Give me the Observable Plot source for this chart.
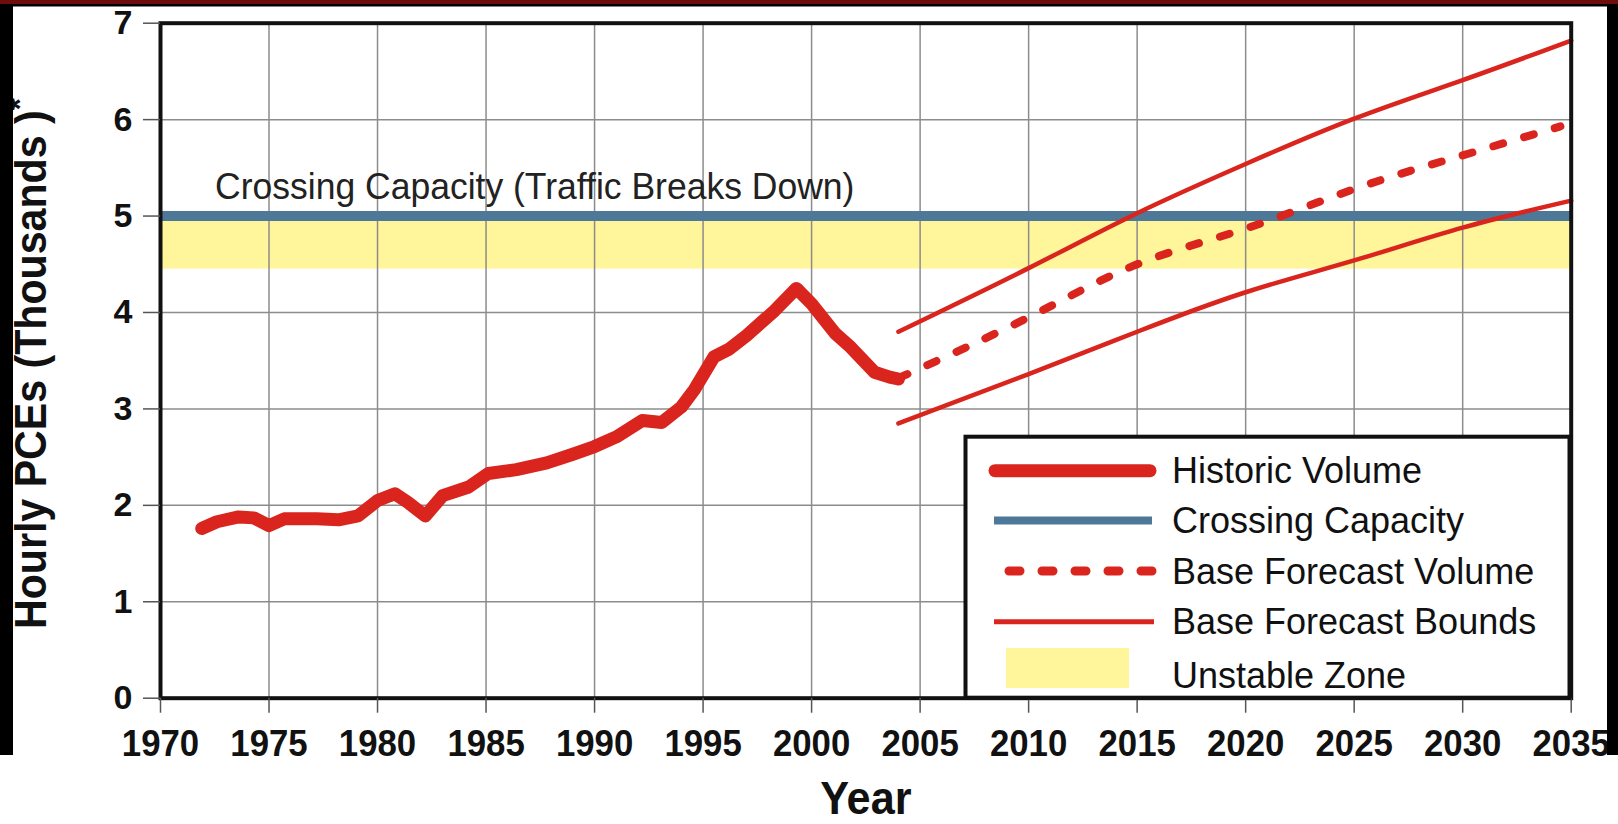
<!DOCTYPE html>
<html>
<head>
<meta charset="utf-8">
<script src="https://cdn.jsdelivr.net/npm/d3@7"></script>
<script src="https://cdn.jsdelivr.net/npm/@observablehq/plot@0.6"></script>
<style>
  html, body { margin: 0; padding: 0; background: #ffffff; }
  body { width: 1618px; height: 824px; position: relative; overflow: hidden; font-family: "Liberation Sans", Arial, sans-serif; }
  #chart { position: absolute; left: 0; top: 0; }
</style>
</head>
<body>
<div id="chart"></div>
<script>
// ---------- data ----------
const xTicks = [1970, 1975, 1980, 1985, 1990, 1995, 2000, 2005, 2010, 2015, 2020, 2025, 2030, 2035];
const yTicks = [0, 1, 2, 3, 4, 5, 6, 7];

const historicYears  = [1971.9, 1972.6, 1973.6, 1974.3, 1975.0, 1975.7, 1977.2, 1978.2, 1979.1, 1980.0, 1980.8, 1981.4, 1982.2, 1983.0, 1984.2, 1985.1, 1986.4, 1987.8, 1989.0, 1990.0, 1991.0, 1992.2, 1993.1, 1994.0, 1994.6, 1995.5, 1996.2, 1997.0, 1998.3, 1999.3, 2000.0, 2001.1, 2001.8, 2002.9, 2003.6, 2004.0];
const historicVolume = [1.76, 1.83, 1.88, 1.87, 1.79, 1.86, 1.86, 1.85, 1.89, 2.05, 2.12, 2.03, 1.89, 2.10, 2.19, 2.33, 2.37, 2.44, 2.53, 2.61, 2.71, 2.88, 2.86, 3.02, 3.20, 3.54, 3.62, 3.76, 4.02, 4.25, 4.09, 3.78, 3.64, 3.38, 3.33, 3.31];

const forecastYears  = [2004, 2005, 2010, 2015, 2020, 2025, 2030, 2034.5];
const baseForecast   = [3.32, 3.42, 3.95, 4.50, 4.87, 5.28, 5.63, 5.93];

const boundYears     = [2004, 2010, 2015, 2020, 2025, 2030, 2035];
const upperBound     = [3.80, 4.46, 5.03, 5.54, 6.01, 6.41, 6.82];
const lowerBound     = [2.85, 3.36, 3.80, 4.21, 4.54, 4.88, 5.16];

const capacityLevel  = [5.0];
const unstableZone   = [4.45, 5.0];   // [low, high]

const capacityLabel  = ["Crossing Capacity (Traffic Breaks Down)"];
const xTitle         = ["Year"];
const yTitle         = ["Hourly PCEs (Thousands )"];
const legendLabels   = ["Historic Volume", "Crossing Capacity", "Base Forecast Volume", "Base Forecast Bounds", "Unstable Zone"];

// ---------- styles ----------
const RED = "#d9251d", BLUE = "#4e7898", YELLOW = "#fff59a", GRID = "#8c8c8c";
const FONT = "'Liberation Sans', Arial, sans-serif";

const historic = historicYears.map((x, i) => ({x, y: historicVolume[i]}));
const base = forecastYears.map((x, i) => ({x, y: baseForecast[i]}));
const upper = boundYears.map((x, i) => ({x, y: upperBound[i]}));
const lower = boundYears.map((x, i) => ({x, y: lowerBound[i]}));
const zone = [{lo: unstableZone[0], hi: unstableZone[1]}];

const plot = Plot.plot({
  width: 1618,
  height: 824,
  marginLeft: 160,
  marginRight: 47.3,
  marginTop: 22.7,
  marginBottom: 126.3,
  style: {background: "transparent", fontFamily: FONT, overflow: "visible", maxWidth: "none"},
  x: {domain: [xTicks[0], xTicks[xTicks.length - 1]]},
  y: {domain: [yTicks[0], yTicks[yTicks.length - 1]]},
  marks: [
    Plot.rect(zone, {x1: xTicks[0], x2: xTicks[xTicks.length - 1], y1: "lo", y2: "hi", fill: YELLOW}),
    Plot.gridX(xTicks, {stroke: GRID, strokeOpacity: 1, strokeWidth: 1.5}),
    Plot.gridY(yTicks, {stroke: GRID, strokeOpacity: 1, strokeWidth: 1.5}),
    Plot.ruleY(capacityLevel, {stroke: BLUE, strokeWidth: 10}),
    Plot.text(capacityLabel, {frameAnchor: "left", y: capacityLevel[0], dx: 54.6, dy: -16.6, lineAnchor: "bottom",
      textAnchor: "start", fontSize: 37, fill: "#222"}),
    Plot.line(upper, {x: "x", y: "y", stroke: RED, strokeWidth: 4.5, curve: "natural"}),
    Plot.line(lower, {x: "x", y: "y", stroke: RED, strokeWidth: 4.5, curve: "natural"}),
    Plot.line(base, {x: "x", y: "y", stroke: RED, strokeWidth: 8, curve: "natural", strokeDasharray: "10,22", strokeLinecap: "round"}),
    Plot.line(historic, {x: "x", y: "y", stroke: RED, strokeWidth: 13, strokeLinecap: "round", strokeLinejoin: "round"}),
    Plot.frame({stroke: "#111", strokeWidth: 4}),
    Plot.axisX(xTicks, {tickSize: 15, tickPadding: 17, fontSize: 37, fontWeight: "bold", fill: "#111", stroke: "#555",
      strokeWidth: 1.5, tickFormat: d => String(d), label: null}),
    Plot.axisY(yTicks, {tickSize: 17, tickPadding: 11, fontSize: 34, fontWeight: "bold", fill: "#111", stroke: "#555",
      strokeWidth: 1.5, tickFormat: d => String(d), label: null}),
    Plot.text(xTitle, {frameAnchor: "bottom", dy: 116, lineAnchor: "bottom", fontSize: 47, fontWeight: "bold",
      fill: "#111"}),
    Plot.text(yTitle, {frameAnchor: "left", dx: -115, dy: 3, rotate: -90, lineAnchor: "bottom", textAnchor: "middle",
      fontSize: 44, fontWeight: "bold", fill: "#111"})
  ]
});
document.getElementById("chart").appendChild(plot);

// condense text like the original narrow typeface
function squeezeWhere(sel, test, s) {
  d3.select(plot).selectAll(sel).filter(function() { return test(this.textContent); }).each(function() {
    const t = this.getAttribute("transform") || "";
    this.setAttribute("transform", t + ` scale(${s},1)`);
  });
}
squeezeWhere('g[aria-label="x-axis tick label"] text', () => true, 0.94);
squeezeWhere("text", s => s === xTitle[0], 0.92);
squeezeWhere("text", s => s === capacityLabel[0], 0.96);

// superscript asterisk + condensing on the y title
d3.select(plot).selectAll("text").filter(function() { return this.textContent === yTitle[0]; }).each(function() {
  const t = d3.select(this);
  t.attr("transform", (t.attr("transform") || "") + " scale(0.935,1)");
  t.text("");
  t.append("tspan").text(yTitle[0]);
  t.append("tspan").attr("dy", "-0.45em").attr("font-size", "0.75em").text("*");
});

// ---------- legend (overlay) ----------
const lg = d3.select("body").append("svg")
  .attr("width", 1618).attr("height", 824)
  .style("position", "absolute").style("left", "0px").style("top", "0px")
  .style("font-family", FONT);
lg.append("rect").attr("x", 965.5).attr("y", 436.7).attr("width", 604).attr("height", 261)
  .attr("fill", "#fff").attr("stroke", "#111").attr("stroke-width", 4);
const rowsY = [470.7, 520.5, 571, 621.7, 675];
lg.append("line").attr("x1", 995).attr("x2", 1150).attr("y1", rowsY[0]).attr("y2", rowsY[0])
  .attr("stroke", RED).attr("stroke-width", 13).attr("stroke-linecap", "round");
lg.append("line").attr("x1", 994).attr("x2", 1152).attr("y1", rowsY[1]).attr("y2", rowsY[1])
  .attr("stroke", BLUE).attr("stroke-width", 8);
lg.append("line").attr("x1", 1009).attr("x2", 1152).attr("y1", rowsY[2]).attr("y2", rowsY[2])
  .attr("stroke", RED).attr("stroke-width", 9).attr("stroke-linecap", "round").attr("stroke-dasharray", "11,22");
lg.append("line").attr("x1", 994).attr("x2", 1154).attr("y1", rowsY[3]).attr("y2", rowsY[3])
  .attr("stroke", RED).attr("stroke-width", 5);
lg.append("rect").attr("x", 1006).attr("y", 648).attr("width", 123).attr("height", 40).attr("fill", YELLOW);
legendLabels.forEach((s, i) => {
  lg.append("text").attr("x", 0).attr("y", 0)
    .attr("transform", `translate(1172,${rowsY[i]})`)
    .attr("dy", "0.35em").attr("font-size", 36).attr("fill", "#111").text(s);
});

// ---------- image border strips ----------
lg.append("rect").attr("x", 0).attr("y", 0).attr("width", 13).attr("height", 755).attr("fill", "#000");
lg.append("rect").attr("x", 1607).attr("y", 0).attr("width", 11).attr("height", 755).attr("fill", "#000");
lg.append("rect").attr("x", 0).attr("y", 0).attr("width", 1618).attr("height", 6.5).attr("fill", "#000");
lg.append("rect").attr("x", 0).attr("y", 0).attr("width", 1618).attr("height", 4).attr("fill", "#6e0d0d");
</script>
</body>
</html>
